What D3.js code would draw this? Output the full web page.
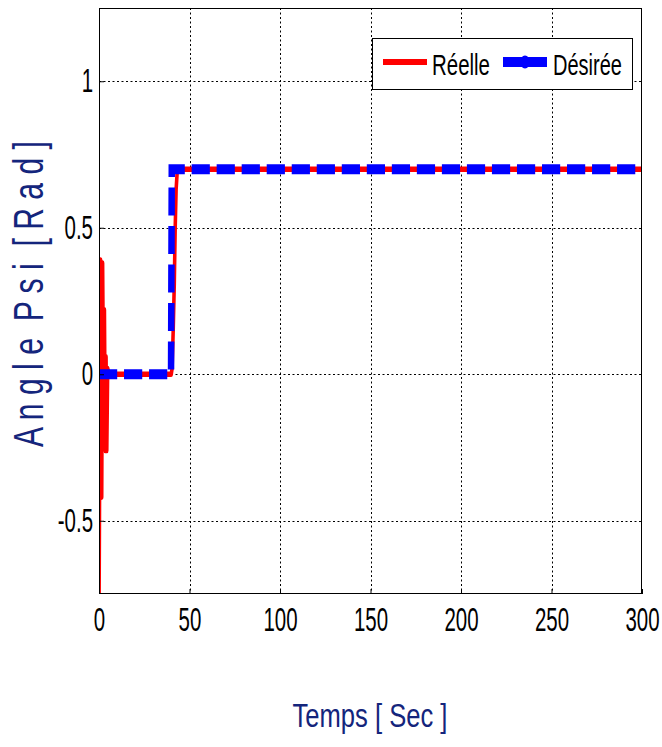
<!DOCTYPE html>
<html>
<head>
<meta charset="utf-8">
<script src="https://cdn.jsdelivr.net/npm/d3@7"></script>
<style>
  html, body { margin: 0; padding: 0; background: #fff; }
  svg text { font-family: "Liberation Sans", Arial, sans-serif; }
</style>
</head>
<body>
<svg id="chart" width="662" height="747"></svg>
<script>
// Yaw angle response: measured ("Réelle") and reference ("Désirée"), time in s, angle in rad
const reelleT = [0, 0.3, 0.9, 1.5, 2.0, 2.5, 3.0, 3.5, 3.9, 4.3, 4.8, 5.5, 39.9, 40.4, 41.0, 41.6, 42.1, 42.6, 43.2, 44.0, 300];
const reelleV = [-0.85, -0.42, 0.39, -0.42, 0.38, -0.05, 0.22, -0.26, 0.06, -0.26, 0.02, 0, 0, 0.02, 0.15, 0.31, 0.5, 0.63, 0.69, 0.70, 0.70];
const desireeT = [0, 39.8, 40.2, 300];
const desireeV = [0, 0, 0.70, 0.70];

const xTicks = [0, 50, 100, 150, 200, 250, 300];
const xTickLabels = ["0", "50", "100", "150", "200", "250", "300"];
const yTicks = [-0.5, 0, 0.5, 1];
const yTickLabels = ["-0.5", "0", "0.5", "1"];

const legendLabels = ["Réelle", "Désirée"];
const seriesColors = ["#ff0000", "#0000ff"];

const xTitle = "Temps [ Sec ]";
const yTitle = "A n g l e\u00A0 P s i\u00A0 [ R a d ]";

// layout
const L = 99, R = 642, T = 8, B = 594;
const squeezeX = 0.65;          // horizontal compression of the plotted traces
const labelColor = "#14257c";

const svg = d3.select("#chart");
const x = d3.scaleLinear().domain([0, 300]).range([L, R]);
const y = d3.scaleLinear().domain([-0.75, 1.25]).range([B, T]);

// dotted grid
const grid = svg.append("g").attr("stroke", "#000").attr("stroke-width", 1)
  .attr("stroke-dasharray", "2,2.5").attr("fill", "none");
grid.selectAll("line.v").data(xTicks.filter(d => d > 0 && d < 300)).join("line")
  .attr("class", "v")
  .attr("x1", d => Math.round(x(d)) + 0.5).attr("x2", d => Math.round(x(d)) + 0.5)
  .attr("y1", T).attr("y2", B);
grid.selectAll("line.h").data(yTicks).join("line")
  .attr("class", "h")
  .attr("y1", d => Math.round(y(d)) + 0.5).attr("y2", d => Math.round(y(d)) + 0.5)
  .attr("x1", L).attr("x2", R);

// traces, clipped to the axes box
svg.append("clipPath").attr("id", "plotClip")
  .append("rect").attr("x", L).attr("y", T).attr("width", R - L).attr("height", B - T);
const traces = svg.append("g").attr("clip-path", "url(#plotClip)")
  .append("g").attr("transform", `scale(${squeezeX},1)`);

const line = d3.line().x(d => x(d[0]) / squeezeX).y(d => y(d[1]));

traces.append("path")
  .datum(reelleT.map((t, i) => [t, reelleV[i]]))
  .attr("d", line)
  .attr("fill", "none").attr("stroke", seriesColors[0]).attr("stroke-width", 5.5)
  .attr("stroke-linejoin", "round");

traces.append("path")
  .datum(desireeT.map((t, i) => [t, desireeV[i]]))
  .attr("d", line)
  .attr("fill", "none").attr("stroke", seriesColors[1]).attr("stroke-width", 10)
  .attr("stroke-dasharray", "28,10.5");

// axes box
svg.append("rect").attr("x", L + 0.5).attr("y", T + 0.5)
  .attr("width", R - L - 1).attr("height", B - T - 1)
  .attr("fill", "none").attr("stroke", "#000").attr("stroke-width", 1);

const tickScale = 0.62;
const tickFont = 33;

const xAxis = svg.append("g").attr("transform", `translate(0,${B})`)
  .call(d3.axisBottom(x).tickValues(xTicks).tickFormat((d, i) => xTickLabels[i])
    .tickSizeInner(-5).tickSizeOuter(0).tickPadding(14));
xAxis.select(".domain").remove();
xAxis.selectAll("line").attr("stroke", "#000");
xAxis.selectAll("text").attr("font-size", tickFont).attr("fill", "#000")
  .attr("transform", `scale(${tickScale},1)`);

const yAxis = svg.append("g").attr("transform", `translate(${L},0)`)
  .call(d3.axisLeft(y).tickValues(yTicks).tickFormat((d, i) => yTickLabels[i])
    .tickSizeInner(-5).tickSizeOuter(0).tickPadding(6 / tickScale));
yAxis.select(".domain").remove();
yAxis.selectAll("line").attr("stroke", "#000");
yAxis.selectAll("text").attr("font-size", tickFont).attr("fill", "#000")
  .attr("transform", `scale(${tickScale},1)`);

// fits a text element to a given width along its baseline
function fitText(sel, width) {
  const len = sel.node().getComputedTextLength();
  return `scale(${width / len},1)`;
}

// axis titles
const xt = svg.append("text").text(xTitle)
  .attr("font-size", 33).attr("fill", labelColor).attr("text-anchor", "middle");
xt.attr("transform", `translate(370,727) ${fitText(xt, 155)}`);

const yt = svg.append("text").text(yTitle)
  .attr("xml:space", "preserve").style("white-space", "pre")
  .attr("font-size", 43).attr("fill", labelColor).attr("text-anchor", "middle");
yt.attr("transform", `translate(43,294) rotate(-90) ${fitText(yt, 306)}`);

// legend
const lg = svg.append("g");
lg.append("rect").attr("x", 372.5).attr("y", 38.5).attr("width", 260).attr("height", 51)
  .attr("fill", "#fff").attr("stroke", "#000").attr("stroke-width", 1);
lg.append("line").attr("x1", 383).attr("x2", 427).attr("y1", 62).attr("y2", 62)
  .attr("stroke", seriesColors[0]).attr("stroke-width", 6);
lg.append("line").attr("x1", 503).attr("x2", 547).attr("y1", 62).attr("y2", 62)
  .attr("stroke", seriesColors[1]).attr("stroke-width", 10);
lg.append("ellipse").attr("cx", 525).attr("cy", 62).attr("rx", 5).attr("ry", 6.5)
  .attr("fill", seriesColors[1]);

const legendPos = [[432, 58], [553, 69]];
legendLabels.forEach((lab, i) => {
  const t = lg.append("text").text(lab).attr("font-size", 30).attr("fill", "#000");
  t.attr("transform", `translate(${legendPos[i][0]},75) ${fitText(t, legendPos[i][1])}`);
});
</script>
</body>
</html>
